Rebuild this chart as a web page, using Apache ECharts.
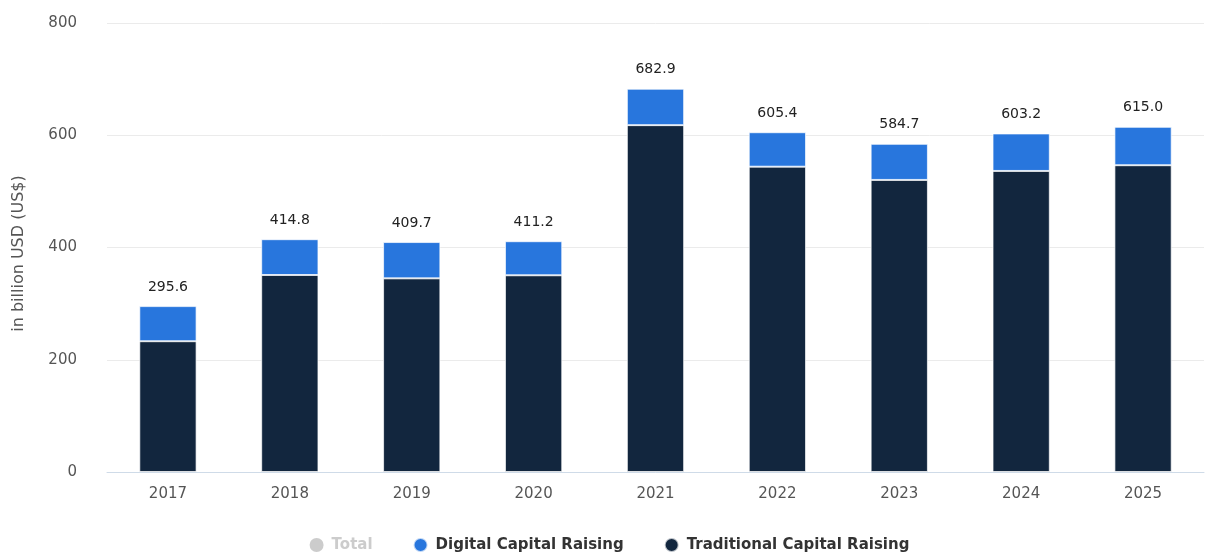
<!DOCTYPE html>
<html><head><meta charset="utf-8">
<script src="https://cdn.jsdelivr.net/npm/echarts@6/dist/echarts.min.js"></script>
<style>html,body{margin:0;padding:0;background:#fff}#c{width:1219px;height:554px}</style>
</head><body><div id="c"></div>
<script>
var years = ['2017','2018','2019','2020','2021','2022','2023','2024','2025'];
var totals = [295.6, 414.8, 409.7, 411.2, 682.9, 605.4, 584.7, 603.2, 615.0];
var traditional = [233.0, 351.0, 345.0, 350.5, 618.0, 544.0, 520.4, 536.4, 546.6];
var digital = [62.6, 63.8, 64.7, 60.7, 64.9, 61.4, 64.3, 66.8, 68.4];
var yTicks = [0, 200, 400, 600, 800];

var chart = echarts.init(document.getElementById('c'));
var FONT = '"DejaVu Sans", sans-serif';
chart.setOption({
  animation: false,
  textStyle: { fontFamily: FONT },
  grid: { left: 107, right: 15, top: 23, bottom: 82 },
  legend: {
    top: 532, left: 'center', itemGap: 40, icon: 'circle', itemWidth: 14, itemHeight: 14,
    textStyle: { fontSize: 15, fontWeight: 'bold', color: '#333', fontFamily: FONT, padding: [0, 0, 0, 3] },
    inactiveColor: '#ccc',
    data: ['Total', 'Digital Capital Raising', 'Traditional Capital Raising'],
    selected: { 'Total': false }
  },
  xAxis: {
    type: 'category', data: years,
    axisLine: { lineStyle: { color: '#cfdbe8', width: 1 } },
    axisTick: { alignWithLabel: true, length: 6, lineStyle: { color: '#cfdbe8' } },
    axisLabel: { color: '#555', fontSize: 15, margin: 15 }
  },
  yAxis: {
    type: 'value', min: yTicks[0], max: yTicks[yTicks.length - 1], interval: 200,
    name: 'in billion USD (US$)', nameLocation: 'middle', nameGap: 80, nameRotate: 90,
    nameTextStyle: { color: '#555', fontSize: 16, padding: [0, 0, 0, -12] },
    axisLine: { show: false }, axisTick: { show: false },
    axisLabel: { color: '#555', fontSize: 15, margin: 30 },
    splitLine: { lineStyle: { color: '#ebebeb' } }
  },
  series: [
    { name: 'Total', type: 'bar', data: [], itemStyle: { color: '#ccc' } },
    { name: 'Traditional Capital Raising', type: 'bar', stack: 't', barWidth: '47%', data: traditional,
      itemStyle: { color: '#12263e', borderColor: 'rgba(255,255,255,0.7)', borderWidth: 1 } },
    { name: 'Digital Capital Raising', type: 'bar', stack: 't', barWidth: '47%', data: digital,
      itemStyle: { color: '#2876dd', borderColor: 'rgba(255,255,255,0.7)', borderWidth: 1 },
      label: { show: true, position: 'top', distance: 12, color: '#222', fontSize: 14,
        formatter: function (p) { return totals[p.dataIndex].toFixed(1); } } }
  ]
});
</script></body></html>
